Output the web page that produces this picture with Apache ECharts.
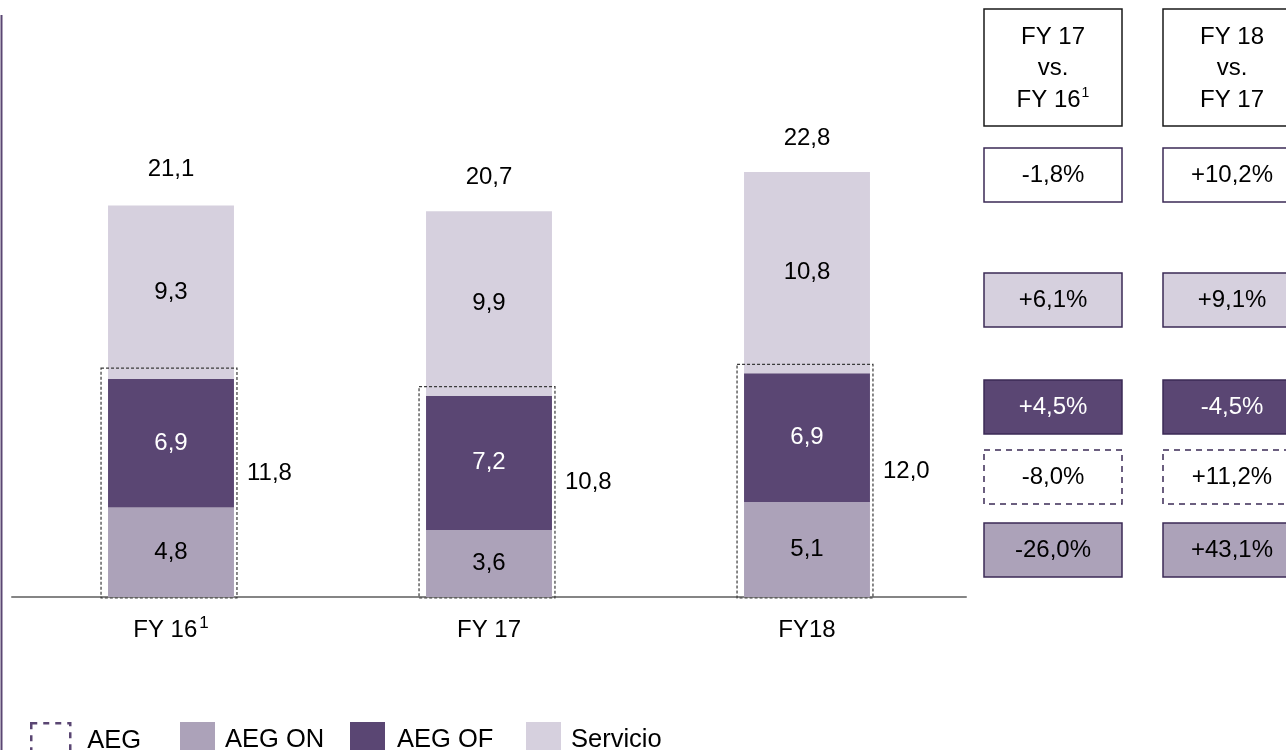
<!DOCTYPE html>
<html>
<head>
<meta charset="utf-8">
<script src="https://cdn.jsdelivr.net/npm/echarts@6/dist/echarts.min.js"></script>
<style>
  html, body { margin: 0; padding: 0; background: #fff; }
  #chart { width: 1286px; height: 750px; }
</style>
</head>
<body>
<div id="chart"></div>
<script>
// Revenue split per fiscal year (stacked) and year-on-year change table
const categories = ['FY 16', 'FY 17', 'FY18'];
const categoryNotes = ['1', '', ''];
const aegOn = [4.8, 3.6, 5.1];
const aegOf = [6.9, 7.2, 6.9];
const servicio = [9.3, 9.9, 10.8];
const aegTotal = [11.8, 10.8, 12.0];
const totals = [21.1, 20.7, 22.8];
const seriesNames = ['AEG', 'AEG ON', 'AEG OF', 'Servicio'];

const compareHeaders = [
  { top: 'FY 17', mid: 'vs.', base: 'FY 16', note: '1' },
  { top: 'FY 18', mid: 'vs.', base: 'FY 17', note: '' }
];
const changeRows = ['Total', 'Servicio', 'AEG OF', 'AEG', 'AEG ON'];
const changesFy17 = ['-1,8%', '+6,1%', '+4,5%', '-8,0%', '-26,0%'];
const changesFy18 = ['+10,2%', '+9,1%', '-4,5%', '+11,2%', '+43,1%'];

const FONT = '"Liberation Sans", Arial, sans-serif';
const C_SERV = '#d6d0de';
const C_OF = '#5a4673';
const C_ON = '#aca2b9';
const C_BORDER = '#3b2a55';
const BAR_W = 0.396;

const fmt = v => v.toFixed(1).replace('.', ',');

const chart = echarts.init(document.getElementById('chart'));

// ---- change table on the right ----
const rowStyle = {
  'Total':    { fill: '#ffffff', text: '#000', dash: null },
  'Servicio': { fill: C_SERV,    text: '#000', dash: null },
  'AEG OF':   { fill: C_OF,      text: '#fff', dash: null },
  'AEG':      { fill: '#ffffff', text: '#000', dash: [6, 5] },
  'AEG ON':   { fill: C_ON,      text: '#000', dash: null }
};
const colLeft = [984, 1163];
const colWidth = 138;
const rowTop = [148, 273, 380, 450, 523];
const rowHeight = 54;
const tableGraphics = [];
compareHeaders.forEach((h, c) => {
  const cx = colLeft[c] + colWidth / 2;
  tableGraphics.push({
    type: 'rect', shape: { x: colLeft[c], y: 9, width: colWidth, height: 117 },
    style: { fill: '#fff', stroke: '#1a1a1a', lineWidth: 1.5 }
  });
  [h.top, h.mid].forEach((t, k) => {
    tableGraphics.push({
      type: 'text',
      style: { text: t, x: cx, y: 37 + k * 31.5, align: 'center', verticalAlign: 'middle',
               font: '24px ' + FONT, fill: '#000' }
    });
  });
  tableGraphics.push({
    type: 'text',
    style: {
      text: '{a|' + h.base + '}' + (h.note ? '{s|' + h.note + '}' : ''),
      x: cx, y: 100, align: 'center', verticalAlign: 'middle',
      rich: {
        a: { fontSize: 24, fontFamily: FONT, fill: '#000', lineHeight: 28 },
        s: { fontSize: 14, fontFamily: FONT, fill: '#000', lineHeight: 28, verticalAlign: 'top', padding: [0, 0, 0, 1] }
      }
    }
  });
});
changeRows.forEach((row, r) => {
  const st = rowStyle[row];
  [changesFy17, changesFy18].forEach((vals, c) => {
    tableGraphics.push({
      type: 'rect', shape: { x: colLeft[c], y: rowTop[r], width: colWidth, height: rowHeight },
      style: { fill: st.fill, stroke: C_BORDER, lineWidth: 1.5, lineDash: st.dash }
    });
    tableGraphics.push({
      type: 'text',
      style: { text: vals[r], x: colLeft[c] + colWidth / 2, y: rowTop[r] + rowHeight / 2,
               align: 'center', verticalAlign: 'middle', font: '24px ' + FONT, fill: st.text }
    });
  });
});

// thin accent rule on the left edge
const sideRule = {
  type: 'line', shape: { x1: 1.5, y1: 15, x2: 1.5, y2: 750 },
  style: { stroke: C_OF, lineWidth: 2 }
};

// ---- legends, one per entry so each can be placed on its own ----
const legendPos = [
  { left: 30, w: 39, pad: 12 },
  { left: 180, w: 35, pad: 5 },
  { left: 350, w: 35, pad: 7 },
  { left: 526, w: 35, pad: 5 }
];
const legendStyles = [
  { color: '#fff', borderColor: C_OF, borderWidth: 2.5, borderType: [6, 6] },
  { color: C_ON, borderWidth: 0 },
  { color: C_OF, borderWidth: 0 },
  { color: C_SERV, borderWidth: 0 }
];
const legends = seriesNames.map((name, i) => ({
  left: legendPos[i].left, top: 722, padding: 0,
  itemWidth: legendPos[i].w, itemHeight: 36,
  selectedMode: false,
  data: [{ name: name, icon: 'rect', itemStyle: legendStyles[i] }],
  textStyle: { fontSize: 25.5, fontFamily: FONT, color: '#000', padding: [0, 0, 5, legendPos[i].pad] }
}));

const insideLabel = color => ({
  show: true, position: 'inside', fontSize: 24, fontFamily: FONT, color: color,
  formatter: p => fmt(p.value)
});

const option = {
  animation: false,
  textStyle: { fontFamily: FONT },
  grid: { left: 12, right: 320, top: 131, bottom: 153 },
  legend: legends,
  xAxis: {
    type: 'category',
    data: categories,
    axisLine: { lineStyle: { color: '#858585', width: 2 } },
    axisTick: { show: false },
    axisLabel: {
      margin: 18,
      formatter: (val, idx) => categoryNotes[idx] ? '{a|' + val + '}{s|' + categoryNotes[idx] + '}' : '{a|' + val + '}',
      rich: {
        a: { fontSize: 24, fontFamily: FONT, color: '#000', lineHeight: 30 },
        s: { fontSize: 17, fontFamily: FONT, color: '#000', lineHeight: 30, verticalAlign: 'top', padding: [0, 0, 3, 2] }
      }
    }
  },
  yAxis: { type: 'value', min: 0, max: 25, show: false, splitLine: { show: false } },
  graphic: [sideRule].concat(tableGraphics),
  series: [
    {
      name: 'AEG ON', type: 'bar', stack: 'split', barWidth: (BAR_W * 100) + '%',
      data: aegOn, itemStyle: { color: C_ON }, label: insideLabel('#000'), z: 2
    },
    {
      name: 'AEG OF', type: 'bar', stack: 'split', barWidth: (BAR_W * 100) + '%',
      data: aegOf, itemStyle: { color: C_OF }, label: insideLabel('#fff'), z: 2
    },
    {
      name: 'Servicio', type: 'bar', stack: 'split', barWidth: (BAR_W * 100) + '%',
      data: servicio, itemStyle: { color: C_SERV }, label: insideLabel('#000'), z: 2
    },
    {
      // invisible total column carrying the label above each stack
      name: 'Total', type: 'bar', barWidth: (BAR_W * 100) + '%', barGap: '-100%',
      data: totals, itemStyle: { color: 'rgba(0,0,0,0)' }, z: 1,
      label: { show: true, position: 'top', distance: 22, fontSize: 24, fontFamily: FONT, color: '#000',
               formatter: p => fmt(p.value) }
    },
    {
      // dotted frame around the AEG part of each stack, with its subtotal on the right
      name: 'AEG', type: 'custom',
      data: aegTotal.map((v, i) => [i, v]),
      z: 5,
      renderItem: (params, api) => {
        const i = api.value(0), v = api.value(1);
        const base = api.coord([i, 0]);
        const top = api.coord([i, v]);
        const bw = api.size([1, 0])[0] * BAR_W;
        const x0 = base[0] - bw / 2 - 7, x1 = base[0] + bw / 2 + 3;
        const y0 = top[1] - 9, y1 = base[1] + 1;
        return {
          type: 'group',
          children: [
            { type: 'rect', shape: { x: x0, y: y0, width: x1 - x0, height: y1 - y0 },
              style: { fill: 'none', stroke: '#3a3a3a', lineWidth: 1.2, lineDash: [3, 2] } },
            { type: 'text',
              style: { text: fmt(v), x: x1 + 10, y: (y0 + y1) / 2 - 10, align: 'left', verticalAlign: 'middle',
                       font: '24px ' + FONT, fill: '#000' } }
          ]
        };
      }
    }
  ]
};

chart.setOption(option);
</script>
</body>
</html>
